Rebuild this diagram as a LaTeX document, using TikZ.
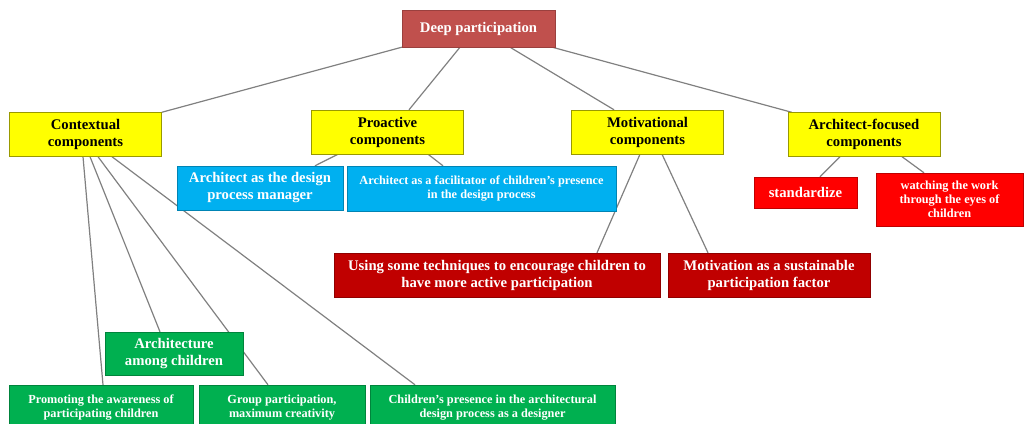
\documentclass[tikz,border=0pt]{standalone}
\usepackage{fontspec}
\setmainfont{Liberation Serif}
\usetikzlibrary{positioning}
\usetikzlibrary{backgrounds}

\definecolor{rootred}{HTML}{C0504D}
\definecolor{compyellow}{HTML}{FFFF00}
\definecolor{roleblue}{HTML}{00B0F0}
\definecolor{archred}{HTML}{FF0000}
\definecolor{motred}{HTML}{C00000}
\definecolor{ctxgreen}{HTML}{00B050}
\definecolor{linegray}{HTML}{808080}

\begin{document}
\begin{tikzpicture}[x=1pt,y=-1pt,
                    box node/.style={rectangle,inner sep=0pt,align=center,
                            font=\fontsize{14.7}{17}\selectfont\bfseries,text=white},
                    small node/.style={box node,font=\fontsize{12.3}{14}\selectfont\bfseries},
                    root node/.style={box node,fill=rootred,draw=rootred!80!black},
                    comp node/.style={box node,fill=compyellow,draw=compyellow!60!black,text=black,
                            minimum width=152pt,minimum height=44pt},
                    role node/.style={fill=roleblue,draw=roleblue!75!black},
                    arch node/.style={fill=archred,draw=archred!75!black},
                    mot node/.style={fill=motred,draw=motred!75!black},
                    ctx node/.style={fill=ctxgreen,draw=ctxgreen!75!black},
                    link/.style={draw=linegray,line width=1.2pt}]

                \useasboundingbox (0,0) rectangle (1024,423);

                % top of the tree
                \node[root node,minimum width=153pt,minimum height=37pt] (deep) at (478.5,28.5) {Deep participation};

                \node[comp node] (ctx) at (85.5,134.5) {Contextual\\components};
                \node[comp node] (pro) at (387.5,132) {Proactive\\components};
                \node[comp node] (mot) at (647.5,132) {Motivational\\components};
                \node[comp node] (arc) at (864,134.5) {Architect-focused\\components};

                % leaves
                \node[box node,role node,minimum width=166pt,minimum height=44pt] (manager) at (260,188) {Architect as the design\\process manager};
                \node[small node,role node,minimum width=269pt,minimum height=45pt] (facil) at (481.5,188.5) {Architect as a facilitator of children's presence\\in the design process};

                \node[box node,mot node,minimum width=326pt,minimum height=44pt] (techniques) at (497,275) {Using some techniques to encourage children to\\have more active participation};
                \node[box node,mot node,minimum width=202pt,minimum height=44pt] (sustain) at (769,275) {Motivation as a sustainable\\participation factor};

                \node[box node,arch node,minimum width=103pt,minimum height=31pt] (standard) at (805.5,192.5) {standardize};
                \node[small node,arch node,minimum width=147pt,minimum height=53pt] (eyes) at (949.5,199.5) {watching the work\\through the eyes of\\children};

                \node[box node,ctx node,minimum width=138pt,minimum height=43pt] (among) at (174,353.5) {Architecture\\among children};
                \node[small node,ctx node,minimum width=184pt,minimum height=45pt] (aware) at (101,407.5) {Promoting the awareness of\\participating children};
                \node[small node,ctx node,minimum width=166pt,minimum height=45pt] (group) at (282,407.5) {Group participation,\\maximum creativity};
                \node[small node,ctx node,minimum width=245pt,minimum height=45pt] (designer) at (492.5,407.5) {Children's presence in the architectural\\design process as a designer};

                \begin{pgfonlayer}{background}
                \path[link]
                (deep.south west) edge (ctx.north east)
                ([xshift=-18.5pt]deep.south) edge ([xshift=21.5pt]pro.north)
                ([xshift=31.5pt]deep.south) edge ([xshift=-33.5pt]mot.north)
                ([xshift=-3pt]deep.south east) edge ([xshift=4pt]arc.north west)

                ([xshift=-2.5pt]ctx.south) edge ([xshift=2pt]aware.north)
                ([xshift=4.5pt]ctx.south) edge ([xshift=-14pt]among.north)
                ([xshift=12.5pt]ctx.south) edge ([xshift=-14pt]group.north)
                ([xshift=26.5pt]ctx.south) edge ([xshift=-77.5pt]designer.north)

                ([xshift=-49.5pt]pro.south) edge ([xshift=55pt]manager.north)
                ([xshift=40.5pt]pro.south) edge ([xshift=-38.5pt]facil.north)

                ([xshift=-7.5pt]mot.south) edge ([xshift=100pt]techniques.north)
                ([xshift=14.5pt]mot.south) edge ([xshift=-61pt]sustain.north)

                ([xshift=-24pt]arc.south) edge ([xshift=14.5pt]standard.north)
                ([xshift=38pt]arc.south) edge ([xshift=-25.5pt]eyes.north)
                ;
                \end{pgfonlayer}
            \end{tikzpicture}
\end{document}
